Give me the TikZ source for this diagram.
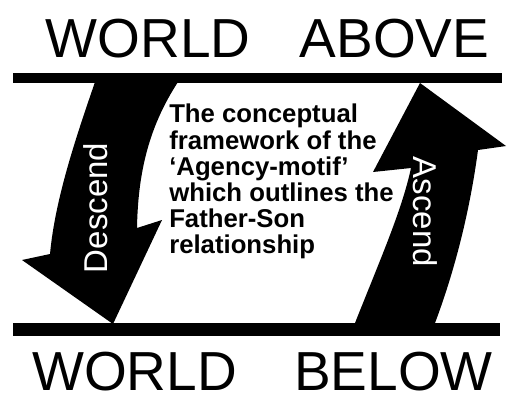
\documentclass[tikz,border=0pt]{standalone}
\usepackage{fontspec}
\setmainfont{Liberation Sans}
\begin{document}
\begin{tikzpicture}[x=0.75pt,y=-0.75pt,
  bar/.style={fill=black},
  bigarrow/.style={fill=black},
  worldtext/.style={font=\fontsize{41.25pt}{42pt}\selectfont, inner sep=0, anchor=base},
  arrowlabel/.style={font=\fontsize{24.75pt}{25pt}\selectfont, text=white, inner sep=0},
  maintext/.style={font=\fontsize{19.3pt}{19.6pt}\selectfont\bfseries, align=left, inner sep=0, anchor=north west}]
\useasboundingbox (0,0) rectangle (510,400);
\fill[white] (0,0) rectangle (510,400);
% bars
\fill[bar] (13,73) rectangle (502,83);
\fill[bar] (13,323) rectangle (500,336);
% titles
\node[worldtext] (above) at (267.5,57) {WORLD\hspace{37pt}ABOVE};
\node[worldtext] (below) at (262.5,390) {WORLD\hspace{43pt}BELOW};
% descend arrow
\fill[bigarrow] (95,82) -- (178,82) .. controls (150,125) and (138,170) .. (137,228)
  -- (162,220) -- (113,324) -- (22,260) -- (50,254)
  .. controls (55,200) and (75,140) .. (95,82) -- cycle;
% ascend arrow
\fill[bigarrow] (420,83) -- (506,146) -- (478,150)
  .. controls (470,210) and (455,270) .. (435,323) -- (355,323)
  .. controls (380,260) and (402,210) .. (411,168) -- (373,172) -- cycle;
% labels
\node[arrowlabel, rotate=90] (descend) at (96,208) {Descend};
\node[arrowlabel, rotate=-90] (ascend) at (425,212) {Ascend};
\node[maintext] (mid) at (169,104) {The conceptual\\framework of the\\‘Agency-motif’\\which outlines the\\Father-Son\\relationship};
\end{tikzpicture}
\end{document}
